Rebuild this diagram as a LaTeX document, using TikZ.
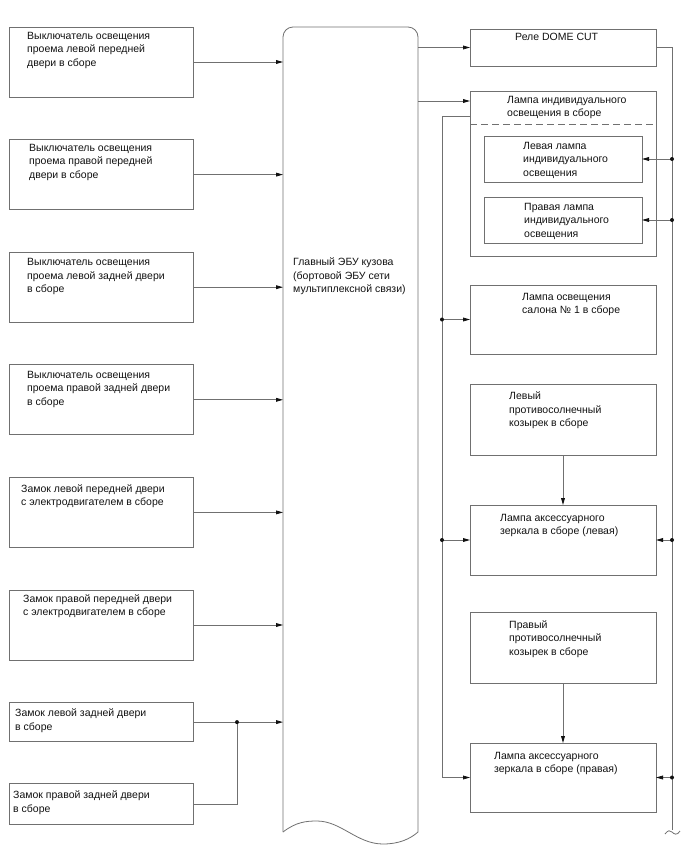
\documentclass[tikz,border=0pt]{standalone}
\usepackage{fontspec}
\setmainfont{Liberation Sans}
\usepackage{tikz}
\usetikzlibrary{arrows.meta,positioning}
\definecolor{linegrey}{HTML}{707070}
\definecolor{inkblack}{HTML}{111111}

\begin{document}
\begin{tikzpicture}[x=1pt,y=-1pt,
  box/.style={draw=linegrey,line width=0.8pt,minimum width=184pt,inner sep=0pt,outer sep=0pt,
              anchor=north west},
  rbox/.style={box,minimum width=186pt},
  txt/.style={anchor=north west,inner sep=0pt,align=left,
              font=\fontsize{10.5}{13.5}\selectfont,text=inkblack},
  wire/.style={draw=linegrey,line width=0.8pt},
  arr/.style={wire,-{Triangle[length=7pt,width=3.8pt,color=inkblack]}},
  dot/.style={fill=inkblack}
]
\useasboundingbox (0,0) rectangle (688,852);

% left column: switches and door locks
\node[box,minimum height=70pt] (lfsw) at (9,27) {};
\node[box,minimum height=70pt,below=42.6pt of lfsw] (rfsw) {};
\node[box,minimum height=70pt,below=42.6pt of rfsw] (lrsw) {};
\node[box,minimum height=70pt,below=42.6pt of lrsw] (rrsw) {};
\node[box,minimum height=70pt,below=42.6pt of rrsw] (lflock) {};
\node[box,minimum height=70pt,below=42.6pt of lflock] (rflock) {};
\node[box,minimum height=39pt,below=42.6pt of rflock] (lrlock) {};
\node[box,minimum height=41pt,below=42pt of lrlock] (rrlock) {};

\node[txt] (lfswt) at ([xshift=18pt,yshift=-5pt]lfsw.north west)
     {Выключатель освещения\\проема левой передней\\двери в сборе};
\node[txt] (rfswt) at ([xshift=20pt,yshift=-4pt]rfsw.north west)
     {Выключатель освещения\\проема правой передней\\двери в сборе};
\node[txt] (lrswt) at ([xshift=18pt,yshift=-6pt]lrsw.north west)
     {Выключатель освещения\\проема левой задней двери\\в сборе};
\node[txt] (rrswt) at ([xshift=18pt,yshift=-6pt]rrsw.north west)
     {Выключатель освещения\\проема правой задней двери\\в сборе};
\node[txt] (lflockt) at ([xshift=12pt,yshift=-7pt]lflock.north west)
     {Замок левой передней двери\\с электродвигателем в сборе};
\node[txt] (rflockt) at ([xshift=14pt,yshift=-4pt]rflock.north west)
     {Замок правой передней двери\\с электродвигателем в сборе};
\node[txt] (lrlockt) at ([xshift=6pt,yshift=-6pt]lrlock.north west)
     {Замок левой задней двери\\в сборе};
\node[txt] (rrlockt) at ([xshift=4pt,yshift=-7pt]rrlock.north west)
     {Замок правой задней двери\\в сборе};

% body ECU
\node[minimum width=135pt,minimum height=805pt,inner sep=0pt,anchor=north west] (ecu) at (283,27) {};
\draw[wire,rounded corners=10pt] (283,832) -- (283,27) -- (418,27) -- (418,832);
\draw[wire] (283,832) .. controls (296,822) and (306,821) .. (317,821)
            .. controls (341,821) and (357,844) .. (383,844)
            .. controls (399,844) and (410,839) .. (418,832);
\node[txt] (ecut) at ([xshift=10pt,yshift=-231pt]ecu.north west)
     {Главный ЭБУ кузова\\(бортовой ЭБУ сети\\мультиплексной связи)};

% right column: relay and lamps
\node[rbox,minimum height=37pt] (dome) at (470,29) {};
\node[rbox,minimum height=165pt] (lampind) at (470,91) {};
\node[box,minimum width=158pt,minimum height=46pt] (lind) at (484,136) {};
\node[box,minimum width=158pt,minimum height=46pt,below=15pt of lind] (rind) {};
\node[rbox,minimum height=69pt] (salon) at (470,285) {};
\node[rbox,minimum height=71pt] (lvisor) at (470,384) {};
\node[rbox,minimum height=70pt] (lmirror) at (470,505) {};
\node[rbox,minimum height=71pt] (rvisor) at (470,612) {};
\node[rbox,minimum height=69pt] (rmirror) at (470,743) {};
\draw[wire,dash pattern=on 7pt off 4pt] ([yshift=-33pt]lampind.north west) -- ([yshift=-33pt]lampind.north east);

\node[txt] (domet) at ([xshift=45pt,yshift=-4pt]dome.north west) {Реле DOME CUT};
\node[txt] (lampindt) at ([xshift=37pt,yshift=-5pt]lampind.north west)
     {Лампа индивидуального\\освещения в сборе};
\node[txt] (lindt) at ([xshift=39pt,yshift=-6pt]lind.north west)
     {Левая лампа\\индивидуального\\освещения};
\node[txt] (rindt) at ([xshift=40pt,yshift=-6pt]rind.north west)
     {Правая лампа\\индивидуального\\освещения};
\node[txt] (salont) at ([xshift=52pt,yshift=-8pt]salon.north west)
     {Лампа освещения\\салона № 1 в сборе};
\node[txt] (lvisort) at ([xshift=39pt,yshift=-8pt]lvisor.north west)
     {Левый\\противосолнечный\\козырек в сборе};
\node[txt] (lmirrort) at ([xshift=30pt,yshift=-9pt]lmirror.north west)
     {Лампа аксессуарного\\зеркала в сборе (левая)};
\node[txt] (rvisort) at ([xshift=39pt,yshift=-8pt]rvisor.north west)
     {Правый\\противосолнечный\\козырек в сборе};
\node[txt] (rmirrort) at ([xshift=24pt,yshift=-9pt]rmirror.north west)
     {Лампа аксессуарного\\зеркала в сборе (правая)};

% inputs into the ECU
\foreach \src in {lfsw,rfsw,lrsw,rrsw,lflock,rflock,lrlock}
  \draw[arr] (\src) -- (\src -| ecu.west);
\coordinate (lockjoin) at (237,0);
\draw[wire] (rrlock) -| (lrlock -| lockjoin);
\fill[dot] (lrlock -| lockjoin) circle (2pt);

% ECU outputs
\coordinate (indin) at ([yshift=-10pt]lampind.north west);
\draw[arr] (dome -| ecu.east) -- (dome);
\draw[arr] (indin -| ecu.east) -- (indin);

% right supply line
\coordinate (rbus) at (672,830);
\draw[wire] (dome.east) -| (rbus);
\draw[wire] (665,834) .. controls (668,830) and (670,830) .. (672,832)
            .. controls (674,834) and (677,836) .. (680,831);
\foreach \dst in {lind,rind,lmirror,rmirror} {
  \draw[arr] (\dst -| rbus) -- (\dst.east);
  \fill[dot] (\dst -| rbus) circle (2pt);
}

% left lamp line
\coordinate (lbus) at (442,116);
\draw[arr] (lampind.west |- lbus) -- (lbus) |- (rmirror.west);
\foreach \dst in {salon,lmirror} {
  \draw[arr] (\dst -| lbus) -- (\dst.west);
  \fill[dot] (\dst -| lbus) circle (2pt);
}

% sun visors to mirror lamps
\draw[arr] (lvisor) -- (lmirror);
\draw[arr] (rvisor) -- (rmirror);
\end{tikzpicture}
\end{document}
